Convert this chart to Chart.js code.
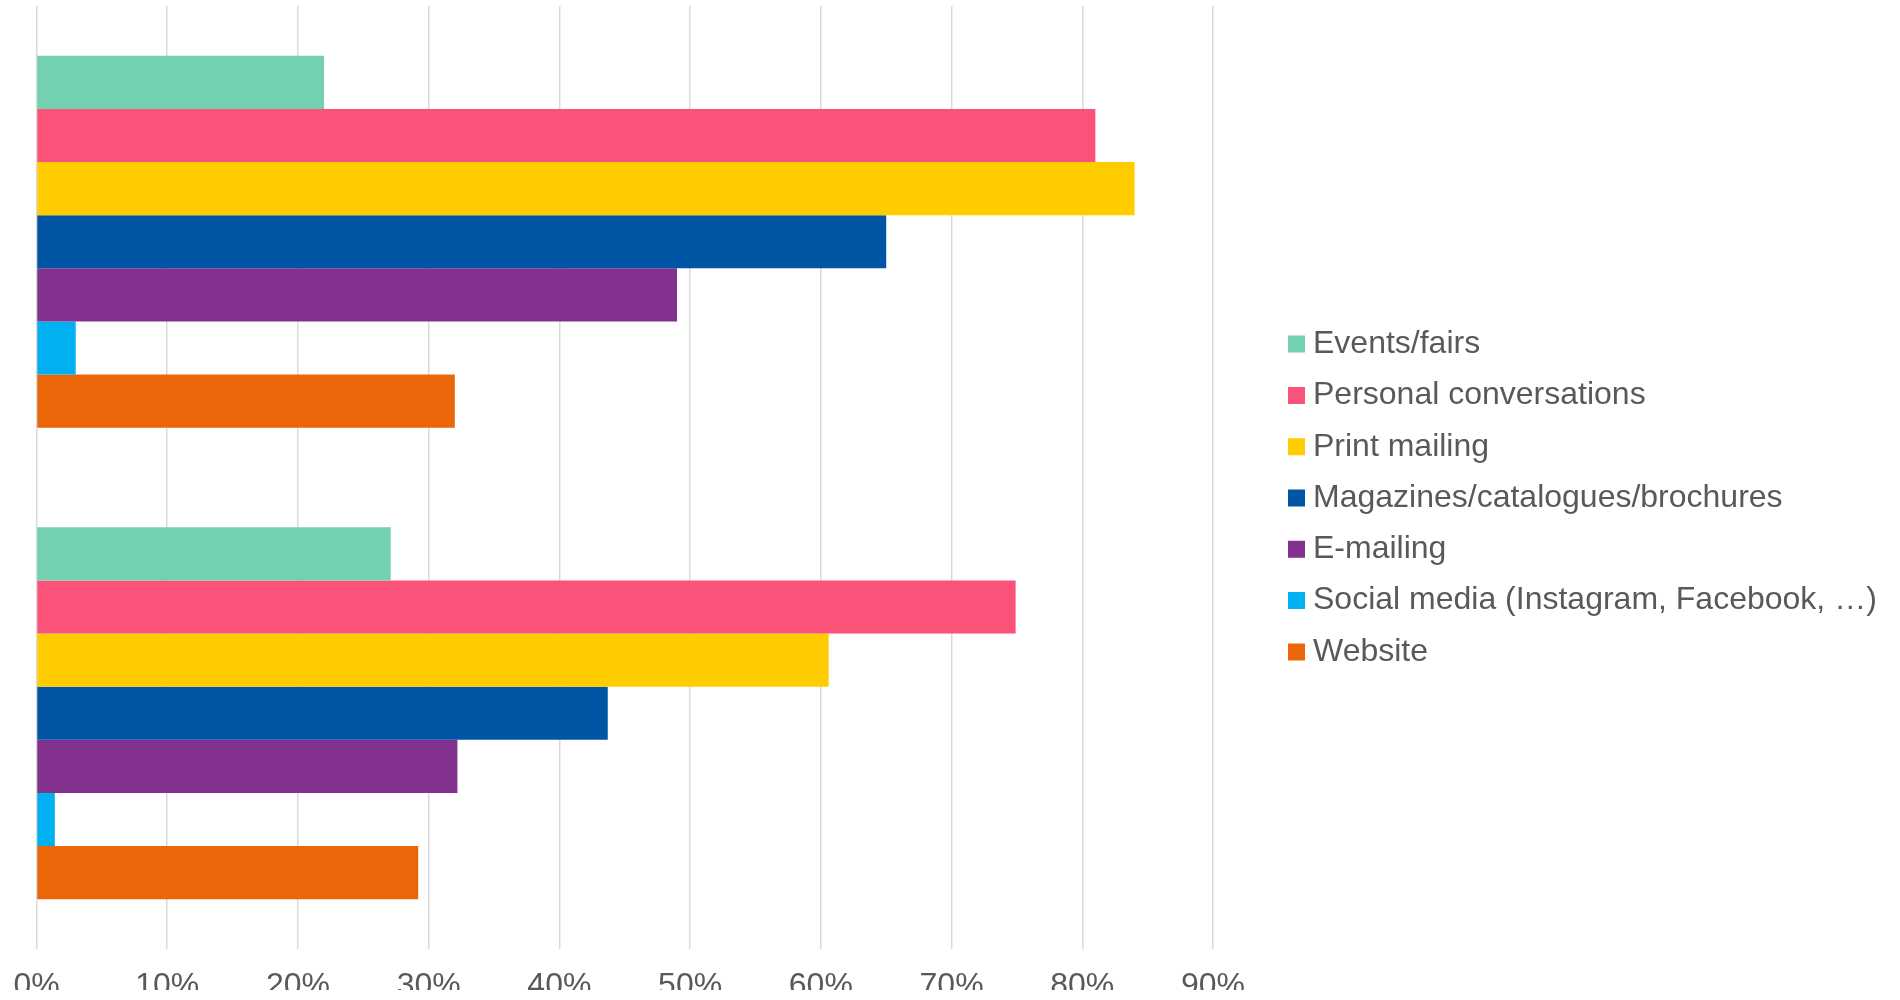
<!DOCTYPE html>
<html>
<head>
<meta charset="utf-8">
<title>Marketing channels</title>
<script src="https://cdn.jsdelivr.net/npm/chart.js@4/dist/chart.umd.min.js"></script>
<style>
  html, body { margin: 0; padding: 0; background: #ffffff; }
  #wrap { width: 1900px; height: 1000px; }
</style>
</head>
<body>
<div id="wrap"><canvas id="chart" width="1900" height="1000"></canvas></div>
<script>
// Two survey groups (category axis labels are not shown)
const groups = ['', ''];

// Share of respondents per channel, in percent, for each group
const eventsFairs   = [22, 27.1];
const personalConv  = [81, 74.9];
const printMailing  = [84, 60.6];
const magazines     = [65, 43.7];
const eMailing      = [49, 32.2];
const socialMedia   = [3, 1.4];
const website       = [32, 29.2];

const seriesNames = [
  'Events/fairs',
  'Personal conversations',
  'Print mailing',
  'Magazines/catalogues/brochures',
  'E-mailing',
  'Social media (Instagram, Facebook, …)',
  'Website'
];
const seriesValues = [eventsFairs, personalConv, printMailing, magazines, eMailing, socialMedia, website];
const seriesColors = ['#74D1B0', '#FA5278', '#FFCC00', '#0055A4', '#82318F', '#00B0F0', '#EB6608'];

// Value axis ticks: 0% … 90% in steps of 10
const tickMin = 0;
const tickMax = 90;
const tickStep = 10;

const textColor = '#595959';
const gridColor = '#D9D9D9';
Chart.defaults.font.family = "'Liberation Sans', Arial, Helvetica, sans-serif";
Chart.defaults.color = textColor;

const datasets = seriesNames.map((name, i) => ({
  label: name,
  data: seriesValues[i],
  backgroundColor: seriesColors[i],
  borderWidth: 0,
  categoryPercentage: 0.789,
  barPercentage: 1.0
}));

// Moves the legend away from the plot to leave a blank gutter between them
const legendGutter = {
  id: 'legendGutter',
  afterLayout(chart) {
    const lg = chart.legend;
    if (!lg) return;
    const shift = 63.7;
    lg.left += shift;
    lg.right += shift;
  }
};

new Chart(document.getElementById('chart'), {
  type: 'bar',
  data: { labels: groups, datasets },
  plugins: [legendGutter],
  options: {
    indexAxis: 'y',
    responsive: false,
    animation: false,
    devicePixelRatio: 1,
    layout: { padding: { left: 0, top: 6, right: 13.3, bottom: 10 } },
    scales: {
      x: {
        min: tickMin,
        max: tickMax,
        border: { display: false },
        grid: { color: gridColor, lineWidth: 1.5, drawTicks: false },
        ticks: {
          stepSize: tickStep,
          padding: 21,
          color: textColor,
          font: { size: 32, lineHeight: 1 },
          callback: (v) => v + '%'
        },
        // fixed plot margins: left edge of the plot and its right edge
        afterFit: (scale) => {
          scale.height = 41;
          scale.paddingLeft = 36.5;
          scale.paddingRight = 687;
        }
      },
      y: {
        display: false
      }
    },
    plugins: {
      tooltip: { enabled: false },
      legend: {
        position: 'right',
        align: 'center',
        labels: {
          color: textColor,
          font: { size: 32 },
          usePointStyle: true,
          pointStyle: 'rect',
          boxWidth: 1,
          boxHeight: 17,
          padding: 19.3
        }
      }
    }
  }
});
</script>
</body>
</html>
